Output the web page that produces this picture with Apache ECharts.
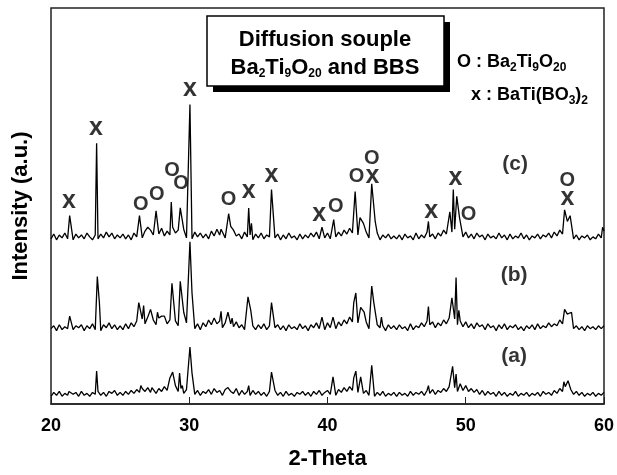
<!DOCTYPE html>
<html>
<head>
<meta charset="utf-8">
<script src="https://cdn.jsdelivr.net/npm/echarts@6/dist/echarts.min.js"></script>
<style>
  html, body { margin: 0; padding: 0; background: #fff; }
  #chart { width: 617px; height: 475px; }
</style>
</head>
<body>
<div id="chart"></div>
<script>
const START = 20;
const STEP = 0.2;

const noiseC = [
  2,7,1,6,3,8,2,5,1,7,3,6,2,8,4,1,6,2,7,3,9,4,8,2,6,
  3,7,2,6,1,8,4,9,3,10,5,11,6,12,7,13,5,10,6,14,8,11,4,12,3,
  6,2,9,4,8,3,7,2,10,5,12,6,9,3,8,4,11,5,7,2,9,4,6,1,7,
  3,8,2,6,4,9,3,7,1,6,2,8,3,5,1,7,2,6,3,8,4,9,2,7,3,
  8,2,6,4,9,5,11,7,13,8,12,6,10,4,9,3,7,2,8,1,6,3,7,2,5,
  2,6,1,7,3,5,1,8,2,6,3,9,4,7,2,8,5,11,7,13,9,12,6,10,4,
  9,3,7,2,8,4,6,1,7,3,5,2,8,3,6,1,7,2,5,3,8,2,6,1,5,
  3,7,2,6,4,8,3,9,5,11,7,12,6,9,2,6,1,5,3,6,1,4,2,7,3,
  10
];
const noiseB = [
  3,6,1,7,2,5,3,8,2,6,4,7,1,6,3,8,2,5,1,7,4,9,3,7,2,
  6,2,8,3,9,5,11,6,13,8,15,9,12,7,14,10,16,8,12,5,11,6,13,4,9,
  5,10,3,8,2,9,5,12,7,14,8,11,4,9,3,8,5,10,4,7,2,8,3,6,2,
  7,3,8,2,6,10,4,7,2,6,1,7,3,5,2,8,3,6,1,7,4,9,3,8,2,
  9,4,7,3,10,6,12,8,15,10,16,9,13,5,10,3,8,2,7,4,6,1,7,3,6,
  2,7,3,5,1,8,2,6,4,9,5,11,7,10,4,9,6,12,8,14,10,13,7,11,5,
  10,4,8,3,9,5,7,2,8,4,6,1,7,3,8,2,6,4,7,2,5,1,6,3,7,
  2,8,3,6,4,9,5,8,6,12,8,14,9,7,3,6,2,5,1,6,3,5,2,6,3,
  6
];
const noiseA = [
  1,5,2,6,1,4,2,6,3,5,1,6,2,4,1,5,3,6,2,5,1,6,4,7,2,
  5,2,6,3,7,4,8,5,9,6,10,5,8,4,9,6,11,7,10,5,12,6,9,4,8,
  4,8,3,7,2,6,4,8,3,9,5,7,2,8,3,6,4,9,2,7,3,6,2,7,3,
  6,2,5,1,6,3,7,2,5,1,6,2,4,1,5,3,6,2,5,1,6,3,7,2,5,
  7,3,6,2,8,5,10,6,11,7,9,5,10,4,7,2,6,1,5,2,6,1,4,2,5,
  1,5,2,4,1,6,2,5,3,6,2,7,4,8,3,7,5,9,6,11,8,10,6,9,7,
  11,6,9,5,8,3,7,2,6,3,5,1,6,2,5,1,4,2,6,1,4,2,5,1,4,
  2,5,1,6,3,5,2,7,4,9,6,11,7,8,3,6,2,5,1,4,2,5,1,4,2,
  5
];

// peaks [2-theta, height above baseline]
const peaksC = [
  [21.35, 26], [23.3, 101], [26.4, 26], [27.0, 14], [27.6, 31], [28.7, 40],
  [29.35, 34], [30.05, 141], [32.3, 12], [32.85, 28], [33.0, 15],
  [34.3, 34], [34.5, 18], [35.95, 53], [39.3, 10], [39.6, 14], [40.45, 22],
  [42.0, 51], [42.35, 24], [42.6, 18], [43.2, 59], [43.45, 20], [47.3, 20],
  [48.85, 30], [49.1, 53], [49.35, 46], [49.55, 24], [57.15, 32], [57.35, 20],
  [57.55, 26], [59.9, 14]
];
const peaksB = [
  [21.35, 16], [23.35, 57], [23.5, 30], [26.35, 30], [26.7, 27], [27.2, 23],
  [27.7, 20], [28.0, 16], [28.75, 50], [29.35, 52], [29.6, 20], [30.05, 93],
  [30.2, 40], [32.3, 21], [32.8, 20], [33.1, 14], [34.25, 36], [34.45, 22],
  [35.95, 30], [39.6, 15], [40.4, 15], [41.9, 30], [42.05, 40], [42.4, 25],
  [42.65, 20], [43.2, 47], [43.35, 30], [43.9, 15], [47.3, 26], [49.0, 35],
  [49.3, 56], [49.5, 22], [57.15, 23], [57.35, 18], [57.65, 20]
];
const peaksA = [
  [21.3, 6], [23.3, 27], [26.5, 12], [27.3, 10], [28.6, 20], [28.8, 26],
  [29.3, 25], [29.5, 12], [30.05, 52], [30.2, 25], [32.8, 10], [34.3, 12],
  [35.95, 26], [39.5, 9], [40.4, 21], [41.9, 20], [42.05, 27], [42.4, 21],
  [43.2, 33], [47.3, 12], [49.05, 32], [49.3, 24], [49.6, 14], [50.0, 12],
  [57.1, 16], [57.4, 17]
];

// vertical shift of each pattern
const offsetC = 169;
const offsetB = 75;
const offsetA = 7;

// phase marks above the peaks of (c)
const marksX = [
  [21.3, 210], [23.25, 286], [30.05, 326], [34.3, 220], [35.95, 237],
  [39.4, 197], [43.25, 236], [47.5, 200], [49.25, 234], [57.35, 213]
];
const marksO = [
  [26.5, 207], [27.65, 217], [28.75, 242], [29.4, 228], [32.85, 212],
  [40.6, 205], [42.1, 236], [43.2, 254], [50.2, 196], [57.35, 231]
];
const sampleLabels = [[53.57, 248, '(c)'], [53.5, 133, '(b)'], [53.5, 50, '(a)']];

function buildPattern(noise, peaks, offset) {
  const pts = noise
    .map((v, i) => [START + i * STEP, v])
    .filter((p) => !peaks.some((q) => Math.abs(q[0] - p[0]) < 0.06));
  return pts
    .concat(peaks)
    .sort((a, b) => a[0] - b[0])
    .map((p) => [p[0], p[1] + offset]);
}

const FONT = '"Liberation Sans", Arial, sans-serif';
const sub = { fontSize: 12, fontWeight: 'bold', fontFamily: FONT, padding: [12, 0, 0, 0] };

const chart = echarts.init(document.getElementById('chart'));

const lineSeries = (name, data) => ({
  name: name,
  type: 'line',
  data: data,
  showSymbol: false,
  lineStyle: { color: '#000', width: 1.3 },
  silent: true,
  z: 2,
});

const markSeries = (data, text, size) => ({
  type: 'scatter',
  data: data,
  symbolSize: 1,
  itemStyle: { color: 'rgba(0,0,0,0)' },
  label: {
    show: true,
    position: 'inside',
    formatter: text,
    fontSize: size,
    fontWeight: 'bold',
    color: '#000',
    fontFamily: FONT,
  },
  silent: true,
  z: 3,
});

const option = {
  animation: false,
  backgroundColor: '#fff',
  grid: {
    show: true,
    left: 51,
    right: 12,
    top: 8,
    bottom: 57,
    borderColor: '#222',
    borderWidth: 1.5,
  },
  xAxis: {
    type: 'value',
    min: 20,
    max: 60,
    interval: 10,
    name: '2-Theta',
    nameLocation: 'middle',
    nameGap: 44,
    nameTextStyle: { fontSize: 22, fontWeight: 'bold', color: '#000', fontFamily: FONT },
    axisLine: { lineStyle: { color: '#222', width: 1.5 } },
    axisTick: { inside: true, length: 7, lineStyle: { color: '#222' } },
    axisLabel: { fontSize: 18, fontWeight: 'bold', color: '#000', margin: 13, fontFamily: FONT },
    splitLine: { show: false },
  },
  yAxis: {
    type: 'value',
    min: 0,
    max: 410,
    name: 'Intensity (a.u.)',
    nameLocation: 'middle',
    nameGap: 19,
    nameRotate: 90,
    nameTextStyle: { fontSize: 22, fontWeight: 'bold', color: '#000', fontFamily: FONT },
    axisLine: { show: false },
    axisTick: { show: false },
    axisLabel: { show: false },
    splitLine: { show: false },
  },
  series: [
    lineSeries('(c)', buildPattern(noiseC, peaksC, offsetC)),
    lineSeries('(b)', buildPattern(noiseB, peaksB, offsetB)),
    lineSeries('(a)', buildPattern(noiseA, peaksA, offsetA)),
    markSeries(marksX, 'x', 25),
    markSeries(marksO, 'O', 20),
    markSeries(sampleLabels, (p) => p.data[2], 21),
  ],
  graphic: [
    { type: 'rect', shape: { x: 213, y: 22, width: 237, height: 70 }, style: { fill: '#000' }, z: 10 },
    {
      type: 'rect',
      shape: { x: 207, y: 16, width: 237, height: 70 },
      style: { fill: '#fff', stroke: '#000', lineWidth: 1.5 },
      z: 11,
    },
    {
      type: 'text',
      x: 325, y: 26,
      z: 12,
      style: {
        text: 'Diffusion souple\nBa{s|2}Ti{s|9}O{s|20} and BBS',
        font: 'bold 22px ' + FONT,
        fill: '#000',
        align: 'center',
        verticalAlign: 'top',
        lineHeight: 28,
        rich: { s: sub },
      },
    },
    {
      type: 'text',
      x: 457, y: 62,
      z: 12,
      style: {
        text: 'O : Ba{s|2}Ti{s|9}O{s|20}',
        font: 'bold 18px ' + FONT,
        fill: '#000',
        align: 'left',
        verticalAlign: 'middle',
        rich: { s: sub },
      },
    },
    {
      type: 'text',
      x: 471, y: 95,
      z: 12,
      style: {
        text: 'x : BaTi(BO{s|3}){s|2}',
        font: 'bold 18px ' + FONT,
        fill: '#000',
        align: 'left',
        verticalAlign: 'middle',
        rich: { s: sub },
      },
    },
  ],
};

chart.setOption(option);
</script>
</body>
</html>
